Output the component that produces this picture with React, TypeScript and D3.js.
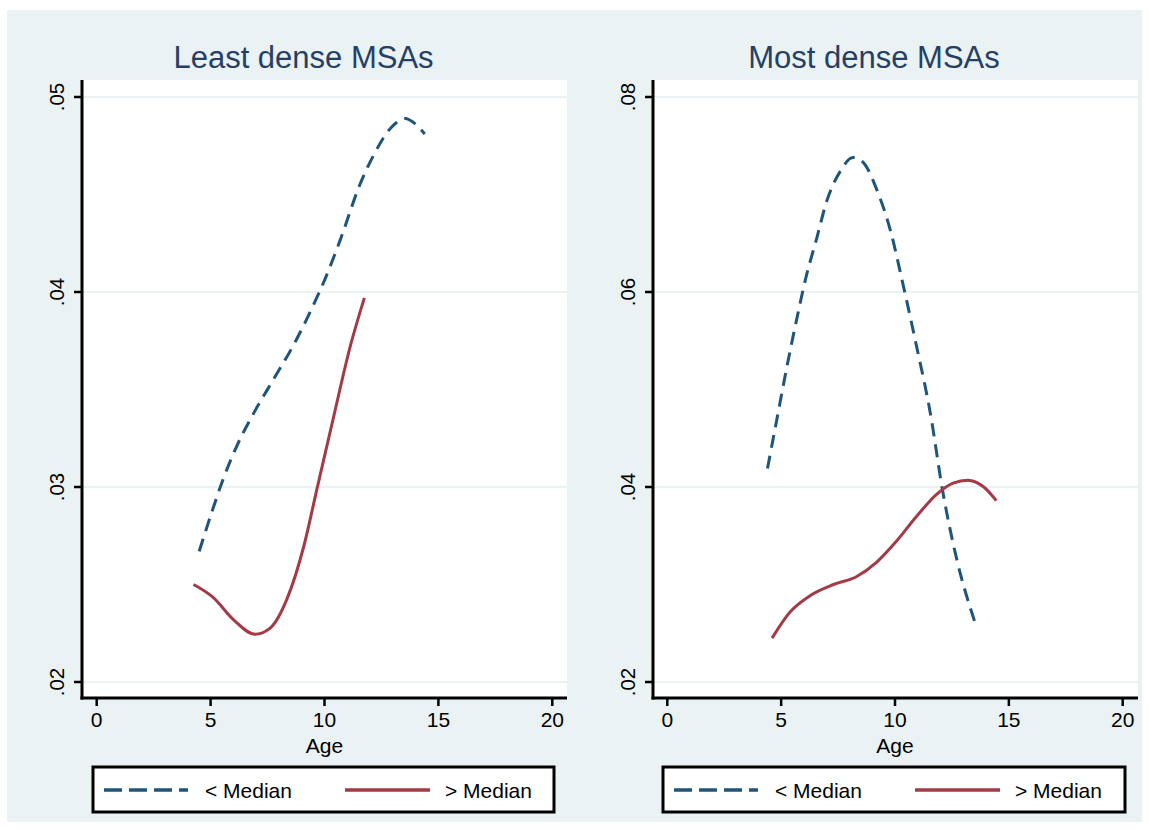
import React from "react";
import * as d3 from "d3";

// ---------- data ----------
const xTicks = [0, 5, 10, 15, 20];
const leftYTicks = [0.02, 0.03, 0.04, 0.05];
const leftYLabels = [".02", ".03", ".04", ".05"];
const rightYTicks = [0.02, 0.04, 0.06, 0.08];
const rightYLabels = [".02", ".04", ".06", ".08"];

const panelTitles = ["Least dense MSAs", "Most dense MSAs"];
const legendLabels = ["< Median", "> Median"];
const xAxisTitle = "Age";

// Least dense, below median
const leastBelowAge = [4.5, 5.05, 5.55, 6.15, 6.9, 7.75, 8.65, 9.5, 10.0, 10.7, 11.55, 12.15, 12.9, 13.55, 13.9, 14.4];
const leastBelowVal = [0.0267, 0.0287, 0.0304, 0.0321, 0.0338, 0.0355, 0.0373, 0.0393, 0.0406, 0.0427, 0.0455, 0.047, 0.0484, 0.0489, 0.0487, 0.0481];
// Least dense, above median
const leastAboveAge = [4.25, 5.1, 6.0, 6.95, 7.6, 8.35, 9.1, 9.65, 10.4, 11.15, 11.75];
const leastAboveVal = [0.025, 0.02435, 0.0232, 0.02245, 0.02275, 0.02425, 0.027, 0.0298, 0.0336, 0.0373, 0.0397];
// Most dense, below median
const mostBelowAge = [4.4, 4.8, 5.25, 5.7, 6.1, 6.55, 7.0, 7.6, 8.15, 8.6, 9.2, 9.8, 10.35, 10.95, 11.55, 12.1, 12.7, 13.5];
const mostBelowVal = [0.0419, 0.0468, 0.0523, 0.0574, 0.0616, 0.0654, 0.0693, 0.0724, 0.0738, 0.0733, 0.0705, 0.0663, 0.0608, 0.0544, 0.0476, 0.0395, 0.0327, 0.0262];
// Most dense, above median
const mostAboveAge = [4.6, 5.4, 6.3, 7.3, 8.3, 9.2, 10.05, 10.95, 11.85, 12.55, 13.2, 13.9, 14.45];
const mostAboveVal = [0.0245, 0.0272, 0.0289, 0.03, 0.0308, 0.0323, 0.0344, 0.037, 0.0393, 0.0404, 0.0407, 0.04, 0.0386];

// ---------- style ----------
const BG = "#EAF2F3";
const GRID = "#EAF2F3";
const NAVY = "#1F5579";
const MAROON = "#A23B45";
const TITLE = "#263F66";
const FONT = "'Liberation Sans', Arial, Helvetica, sans-serif";

type Panel = {
  title: string;
  axisX: number;
  right: number;
  xr: [number, number];
  yDomain: [number, number];
  yTicks: number[];
  yLabels: string[];
  below: [number[], number[]];
  above: [number[], number[]];
  legendX: [number, number];
};

const panels: Panel[] = [
  {
    title: panelTitles[0],
    axisX: 82,
    right: 567,
    xr: [96.7, 552.3],
    yDomain: [0.02, 0.05],
    yTicks: leftYTicks,
    yLabels: leftYLabels,
    below: [leastBelowAge, leastBelowVal],
    above: [leastAboveAge, leastAboveVal],
    legendX: [93, 554],
  },
  {
    title: panelTitles[1],
    axisX: 653,
    right: 1138,
    xr: [667.3, 1122.7],
    yDomain: [0.02, 0.08],
    yTicks: rightYTicks,
    yLabels: rightYLabels,
    below: [mostBelowAge, mostBelowVal],
    above: [mostAboveAge, mostAboveVal],
    legendX: [663, 1125],
  },
];

const PLOT_TOP = 80;
const AXIS_Y = 698;
const Y_RANGE: [number, number] = [682, 97];

function SText(props: { x: number; y: number; size: number; fill?: string; anchor?: string; rotate?: boolean; children: React.ReactNode }) {
  const { x, y, size, fill = "#000", anchor = "middle", rotate = false, children } = props;
  const t = `translate(${x},${y})${rotate ? " rotate(-90)" : ""}`;
  return (
    <text transform={t} fontSize={size} fill={fill} textAnchor={anchor} fontFamily={FONT}>
      {children}
    </text>
  );
}

function PanelView({ p }: { p: Panel }) {
  const x = d3.scaleLinear().domain([0, 20]).range(p.xr);
  const y = d3.scaleLinear().domain(p.yDomain).range(Y_RANGE);
  const line = d3
    .line<[number, number]>()
    .x((d) => x(d[0]))
    .y((d) => y(d[1]))
    .curve(d3.curveMonotoneX);
  const zip = (a: number[], b: number[]) => a.map((v, i) => [v, b[i]] as [number, number]);
  const center = (p.xr[0] + p.xr[1]) / 2;
  const [lx0, lx1] = p.legendX;
  const ly = 790;
  return (
    <g>
      <rect x={p.axisX} y={PLOT_TOP} width={p.right - p.axisX} height={AXIS_Y - PLOT_TOP} fill="#fff" />
      {p.yTicks.map((t) => (
        <line key={t} x1={p.axisX} x2={p.right} y1={y(t)} y2={y(t)} stroke={GRID} strokeWidth={2.2} />
      ))}
      <path d={line(zip(p.below[0], p.below[1])) || ""} fill="none" stroke={NAVY} strokeWidth={3} strokeDasharray="13 8" />
      <path d={line(zip(p.above[0], p.above[1])) || ""} fill="none" stroke={MAROON} strokeWidth={3} />
      {/* axes */}
      <line x1={p.axisX} x2={p.axisX} y1={PLOT_TOP} y2={AXIS_Y + 1.5} stroke="#000" strokeWidth={3} />
      <line x1={p.axisX - 1.5} x2={p.right} y1={AXIS_Y} y2={AXIS_Y} stroke="#000" strokeWidth={3} />
      {p.yTicks.map((t, i) => (
        <g key={"y" + t}>
          <line x1={p.axisX - 8} x2={p.axisX} y1={y(t)} y2={y(t)} stroke="#000" strokeWidth={2.5} />
          <SText x={p.axisX - 18} y={y(t)} size={20.5} rotate>
            {p.yLabels[i]}
          </SText>
        </g>
      ))}
      {xTicks.map((t) => (
        <g key={"x" + t}>
          <line x1={x(t)} x2={x(t)} y1={AXIS_Y} y2={AXIS_Y + 8} stroke="#000" strokeWidth={2.5} />
          <SText x={x(t)} y={727} size={21}>
            {String(t)}
          </SText>
        </g>
      ))}
      <SText x={x(10)} y={753} size={21}>
        {xAxisTitle}
      </SText>
      <SText x={center - 21} y={68} size={31} fill={TITLE}>
        {p.title}
      </SText>
      {/* legend */}
      <rect x={lx0} y={767} width={lx1 - lx0} height={45} fill="#fff" stroke="#000" strokeWidth={3} />
      <line x1={lx0 + 11} x2={lx0 + 95} y1={ly} y2={ly} stroke={NAVY} strokeWidth={3.5} strokeDasharray="18 7" />
      <SText x={lx0 + 112} y={ly + 8} size={21} anchor="start">
        {legendLabels[0]}
      </SText>
      <line x1={lx0 + 252} x2={lx0 + 337} y1={ly} y2={ly} stroke={MAROON} strokeWidth={3.5} />
      <SText x={lx0 + 352} y={ly + 8} size={21} anchor="start">
        {legendLabels[1]}
      </SText>
    </g>
  );
}

export default function App() {
  return (
    <svg width={1149} height={830} style={{ position: "absolute", left: 0, top: 0, background: "#fff" }}>
      <rect x={7} y={10} width={1135} height={812} fill={BG} />
      {panels.map((p) => (
        <PanelView key={p.title} p={p} />
      ))}
    </svg>
  );
}
